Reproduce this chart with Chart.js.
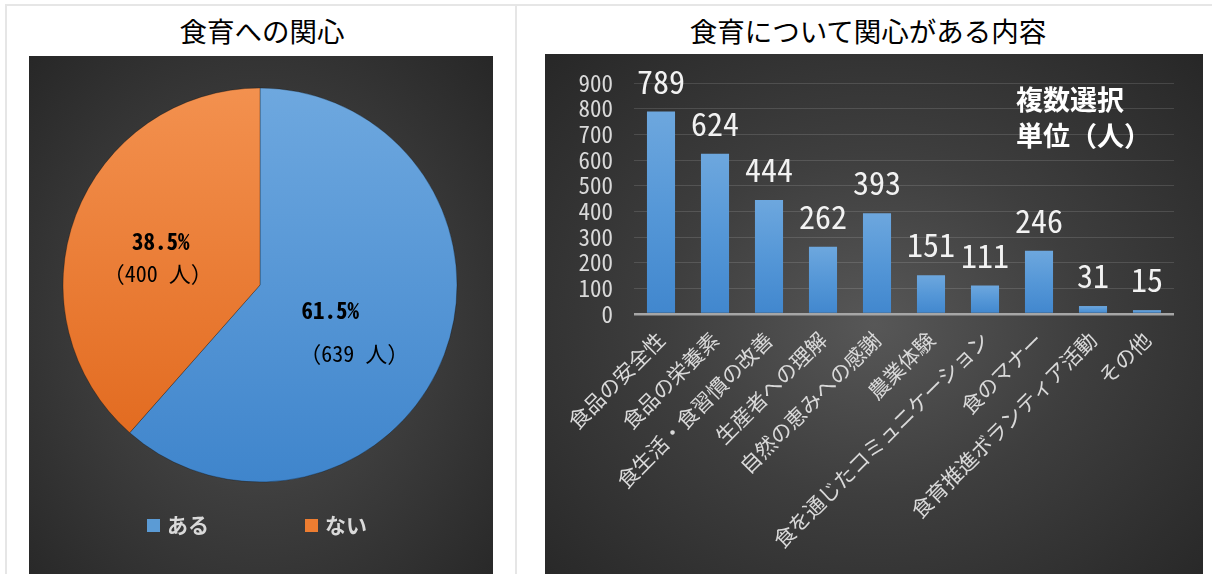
<!DOCTYPE html>
<html lang="ja">
<head>
<meta charset="utf-8">
<script src="https://cdn.jsdelivr.net/npm/chart.js@4.4.1/dist/chart.umd.min.js"></script>
<style>
  body { margin: 0; width: 1212px; height: 574px; background: #fff; overflow: hidden; position: relative; font-family: 'Noto Sans CJK JP', sans-serif; }
  .line { position: absolute; background: #e6e6e6; }
  .title { position: absolute; top: 10px; font-size: 27.5px; line-height: 40px; color: #000; text-align: center; }
  .panel { position: absolute; background: radial-gradient(ellipse farthest-corner at 50% 52%, #575757 0%, #3e3e3e 45%, #272727 100%); }
  canvas { display: block; }
</style>
</head>
<body>
<div class="line" style="left:5px;top:4px;width:1207px;height:2px"></div>
<div class="line" style="left:5px;top:4px;width:2px;height:570px"></div>
<div class="line" style="left:515px;top:4px;width:2px;height:570px"></div>

<div class="title" style="left:29px;width:466px">食育への関心</div>
<div class="title" style="left:545px;width:646px">食育について関心がある内容</div>

<div class="panel" style="left:29px;top:56px;width:464px;height:518px">
  <canvas id="pieChart" width="464" height="518"></canvas>
</div>
<div class="panel" style="left:545px;top:54px;width:658px;height:520px">
  <canvas id="barChart" width="658" height="520"></canvas>
</div>

<script>
// 食育への関心
const pieLabels = ['ある', 'ない'];
const pieValues = [639, 400];

// 食育について関心がある内容（複数選択）
const barLabels = ['食品の安全性', '食品の栄養素', '食生活・食習慣の改善', '生産者への理解', '自然の恵みへの感謝',
  '農業体験', '食を通じたコミュニケーション', '食のマナー', '食育推進ボランティア活動', 'その他'];
const barValues = [789, 624, 444, 262, 393, 151, 111, 246, 31, 15];
const yTicks = [0, 100, 200, 300, 400, 500, 600, 700, 800, 900];

const mono = "'Noto Sans Mono CJK JP', 'Noto Sans CJK JP', sans-serif";
const jp = "'Noto Sans CJK JP', sans-serif";
const light = '#d9d9d9';

const pieColors = [['#6ea8df', '#3f85cc'], ['#f3914f', '#e0661a']];
const pieSwatch = ['#5b9bd5', '#ed7d31'];

function pieFill(c) {
  const area = c.chart.chartArea;
  const pair = pieColors[c.dataIndex];
  if (!area) return pair[0];
  const g = c.chart.ctx.createLinearGradient(0, area.top + 30, 0, area.bottom - 30);
  g.addColorStop(0, pair[0]);
  g.addColorStop(1, pair[1]);
  return g;
}

const pieTextPlugin = {
  id: 'pieText',
  afterDatasetsDraw(chart) {
    const ctx = chart.ctx;
    const total = pieValues.reduce((a, b) => a + b, 0);
    // label offsets from each slice's centre point: [pctX, pctY, countX, countY]
    const shift = [[-22, -10, 2, 34], [-7, -9, -10, 23]];
    chart.getDatasetMeta(0).data.forEach((arc, i) => {
      const p = arc.tooltipPosition();
      const s = shift[i];
      ctx.save();
      ctx.fillStyle = '#000';
      ctx.textAlign = 'center';
      ctx.textBaseline = 'middle';
      ctx.font = 'bold 23px ' + mono;
      ctx.fillText((pieValues[i] / total * 100).toFixed(1) + '%', p.x + s[0], p.y + s[1]);
      ctx.font = '22px ' + mono;
      ctx.fillText('（' + pieValues[i] + ' 人）', p.x + s[2], p.y + s[3]);
      ctx.restore();
    });
  },
  afterDraw(chart) {
    const ctx = chart.ctx;
    const cx = chart.width / 2;
    const starts = [cx - 114, cx + 44];
    ctx.save();
    ctx.font = 'bold 21px ' + jp;
    ctx.textBaseline = 'middle';
    pieLabels.forEach((lab, i) => {
      ctx.fillStyle = pieSwatch[i];
      ctx.fillRect(starts[i], 463, 13, 13);
      ctx.fillStyle = light;
      ctx.fillText(lab, starts[i] + 20, 469);
    });
    ctx.restore();
  }
};

new Chart(document.getElementById('pieChart'), {
  type: 'pie',
  data: {
    labels: pieLabels,
    datasets: [{
      data: pieValues,
      backgroundColor: pieFill,
      borderColor: 'rgba(0,0,0,0.35)',
      borderWidth: 0.8,
      radius: 197,
    }],
  },
  options: {
    responsive: false,
    animation: false,
    layout: { padding: { top: 0, bottom: 60, left: 0, right: 2 } },
    plugins: {
      legend: { display: false },
      tooltip: { enabled: false },
    },
  },
  plugins: [pieTextPlugin],
});

function barFill(c) {
  const y = c.chart.scales && c.chart.scales.y;
  if (!y || c.type !== 'data') return '#5b9bd5';
  const top = y.getPixelForValue(c.raw);
  const bottom = y.getPixelForValue(0);
  if (!isFinite(top) || bottom - top < 1) return '#5b9bd5';
  const g = c.chart.ctx.createLinearGradient(0, top, 0, bottom);
  g.addColorStop(0, '#6da7de');
  g.addColorStop(0.5, '#5597d7');
  g.addColorStop(1, '#4187ce');
  return g;
}

const barTextPlugin = {
  id: 'barText',
  afterDatasetsDraw(chart) {
    const ctx = chart.ctx;
    ctx.save();
    ctx.fillStyle = '#f2f2f2';
    ctx.textAlign = 'center';
    ctx.textBaseline = 'bottom';
    ctx.font = '32px ' + mono;
    chart.getDatasetMeta(0).data.forEach((bar, i) => {
      ctx.fillText(String(barValues[i]), bar.x, bar.y - 14);
    });
    ctx.font = 'bold 27px ' + jp;
    ctx.textAlign = 'left';
    ctx.textBaseline = 'middle';
    ctx.fillStyle = '#fff';
    ctx.fillText('複数選択', 471, 46);
    ctx.fillText('単位（人）', 471, 82);
    ctx.restore();
  }
};

new Chart(document.getElementById('barChart'), {
  type: 'bar',
  data: {
    labels: barLabels,
    datasets: [{
      data: barValues,
      backgroundColor: barFill,
      barPercentage: 0.52,
      categoryPercentage: 1.0,
    }],
  },
  options: {
    responsive: false,
    animation: false,
    layout: { padding: { top: 29, right: 29, left: 0, bottom: 0 } },
    plugins: {
      legend: { display: false },
      tooltip: { enabled: false },
    },
    scales: {
      y: {
        min: 0,
        max: 900,
        afterFit: (s) => { s.width = 89; },
        afterBuildTicks: (s) => { s.ticks = yTicks.map(v => ({ value: v })); },
        ticks: { color: light, font: { size: 23, family: mono }, padding: 1, autoSkip: false },
        grid: {
          drawTicks: true,
          tickLength: 20,
          tickColor: 'rgba(0,0,0,0)',
          color: (c) => c.tick && c.tick.value === 0 ? '#a6a6a6' : 'rgba(255,255,255,0.13)',
          lineWidth: (c) => c.tick && c.tick.value === 0 ? 2.5 : 1,
        },
        border: { display: false },
      },
      x: {
        afterFit: (s) => { s.height = 260; },
        ticks: {
          color: light,
          font: { size: 21, family: jp },
          minRotation: 45,
          maxRotation: 45,
          autoSkip: false,
          padding: 5,
        },
        grid: { display: false },
        border: { display: false },
      },
    },
  },
  plugins: [barTextPlugin],
});
</script>
</body>
</html>
